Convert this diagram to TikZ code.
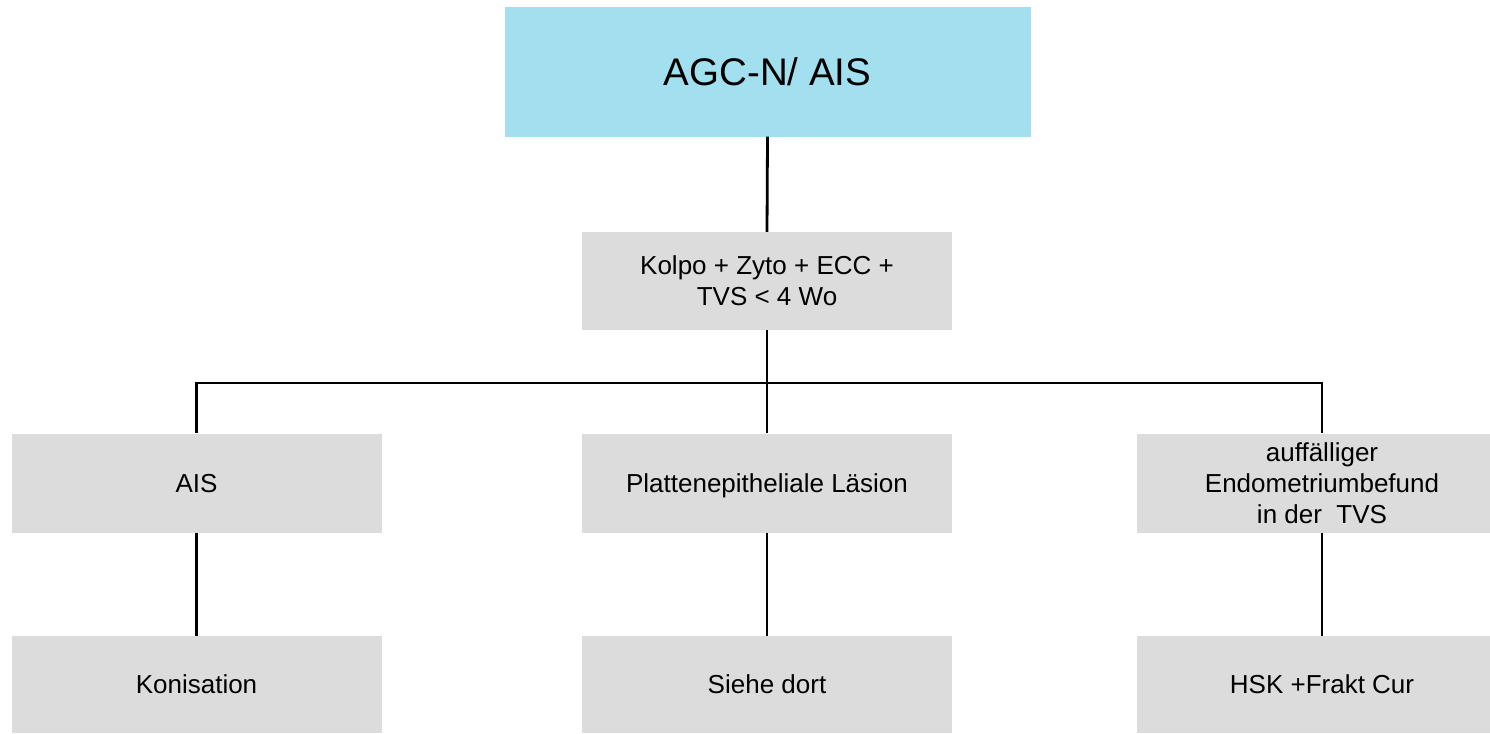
\documentclass[tikz,border=0pt]{standalone}
\usepackage{fontspec}
\setmainfont{Liberation Sans}
\definecolor{headcyan}{HTML}{A2E0EF}
\definecolor{boxgrey}{HTML}{DCDCDC}
\begin{document}
\begin{tikzpicture}[x=1pt,y=-1pt,
  box/.style={rectangle, fill=boxgrey, draw=none, inner sep=0pt,
    minimum width=370pt, minimum height=99pt, align=center, text depth=0pt,
    font=\fontsize{26}{31}\selectfont},
  head/.style={rectangle, fill=headcyan, draw=none, inner sep=0pt,
    minimum width=526pt, minimum height=129pt,
    font=\fontsize{38.5}{46}\selectfont},
  link/.style={draw=black, line width=2.8pt, line join=miter}]
\useasboundingbox (0,0) rectangle (1490,733);

% junction of the branch bar
\coordinate (bar) at (767,383);

% boxes
\node[head] (top) at (767.5,72) {AGC-N/ AIS};
\node[box, minimum height=98pt] (kolpo) at (767,281) {Kolpo + Zyto + ECC +\\TVS < 4 Wo};
\node[box] (ais) at (196.5,483) {AIS};
\node[box] (plat) at (767,483) {Plattenepitheliale Läsion};
\node[box] (endo) at (1322,483) {auffälliger\\Endometriumbefund\\in der\ \ TVS};
\node[box, minimum height=97pt] (kon) at (196.5,684.5) {Konisation};
\node[box, minimum height=97pt] (siehe) at (767,684.5) {Siehe dort};
\node[box, minimum height=97pt] (hsk) at (1322,684.5) {HSK +Frakt Cur};

% connectors
\draw[link] (top.south) -- (kolpo.north);
\draw[link] (kolpo.south) -- (plat.north);
\draw[link] (ais.north) |- (bar) -| (endo.north);
\draw[link] (ais.south) -- (kon.north);
\draw[link] (plat.south) -- (siehe.north);
\draw[link] (endo.south) -- (hsk.north);
\end{tikzpicture}
\end{document}
